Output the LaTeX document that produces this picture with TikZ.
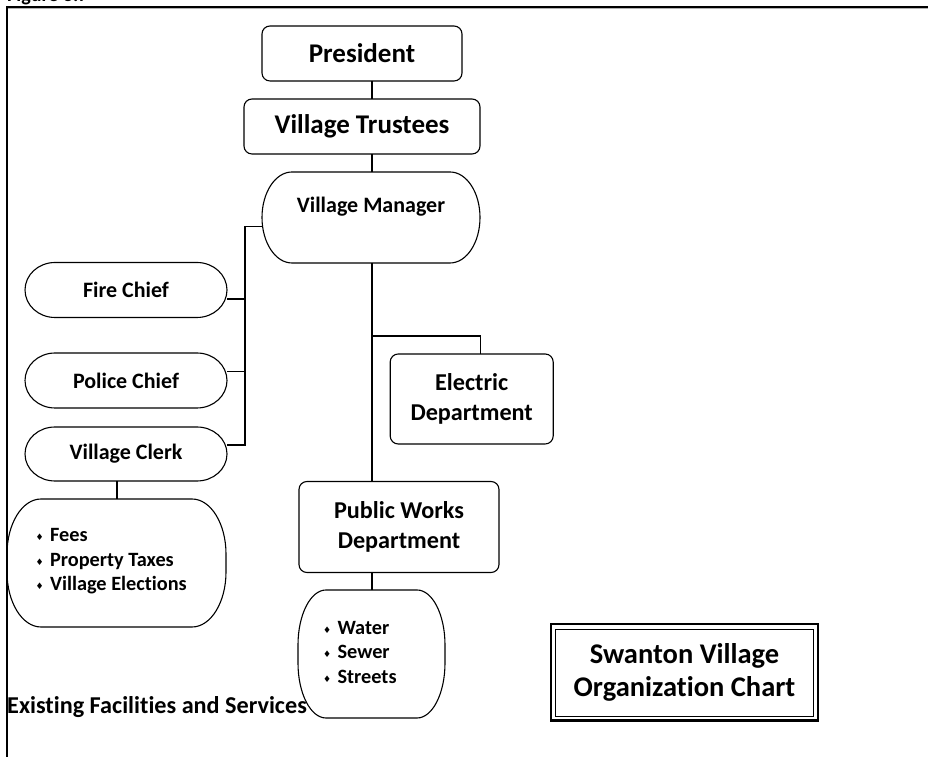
\documentclass[tikz,border=0pt]{standalone}
\usepackage{fontspec}
\setmainfont{Carlito}[Ligatures={NoCommon}]
\newfontfamily\symfont{DejaVu Sans}
\usetikzlibrary{calc}
\newcommand{\ellshape}[3]{%
 \draw[shapeline] ([xshift=#2]#1.north west) -- ([xshift=-#2]#1.north east)
   arc[start angle=90,end angle=0,x radius=#2,y radius=#3]
   -- ([yshift=#3]#1.south east)
   arc[start angle=0,end angle=-90,x radius=#2,y radius=#3]
   -- ([xshift=#2]#1.south west)
   arc[start angle=270,end angle=180,x radius=#2,y radius=#3]
   -- ([yshift=-#3]#1.north west)
   arc[start angle=180,end angle=90,x radius=#2,y radius=#3] -- cycle;}
\newcommand{\dmd}{{\symfont\fontsize{9}{9}\selectfont\raisebox{1pt}{♦}}\hspace{6.5pt}}
\begin{document}
\begin{tikzpicture}[x=1pt,y=1pt,
  conn/.style={line width=1.1pt},
  shapeline/.style={line width=1.1pt},
  rbox/.style={draw, line width=1.1pt, rounded corners=8pt, align=center, inner sep=0pt, outer sep=0pt},
  ebox/.style={align=center, inner sep=0pt, outer sep=0pt},
  fbig/.style={font=\bfseries\fontsize{27}{32}\selectfont},
  fmid/.style={font=\bfseries\fontsize{24.2}{29.3}\selectfont},
  fsub/.style={font=\bfseries\fontsize{22}{26}\selectfont},
  flist/.style={font=\bfseries\fontsize{20.3}{24.5}\selectfont},
  ftitle/.style={font=\bfseries\fontsize{28.5}{33.3}\selectfont}
]
\useasboundingbox (0,0) rectangle (928,757);
% frame
\node[anchor=base west, inner sep=0pt, font=\bfseries\fontsize{20}{24}\selectfont] (fig) at (7,755) {Figure 3.7};
\coordinate (ftl) at (7,750);
\coordinate (ftr) at (928,750);
\coordinate (fbl) at (7,0);
\draw[line width=1pt, gray!60] ([yshift=-1.2pt]ftl) -- ([yshift=-1.2pt]ftr);
\draw[line width=1.4pt] (ftr) -- (ftl) -- (fbl);
% guide coordinates
\coordinate (vx) at (372,0);
\coordinate (bx) at (245,0);
\coordinate (cx) at (117,0);
\coordinate (ex) at (480.7,0);
\coordinate (brY) at (0,421);
% nodes
\node[rbox, fbig, minimum width=200pt, minimum height=55pt] (pres) at (362,703.5) {President};
\node[rbox, fbig, minimum width=236pt, minimum height=55pt] (trust) at (362,630.5) {Village Trustees};
\node[ebox, minimum width=218pt, minimum height=91pt] (mgr) at (371,539.5) {};
\ellshape{mgr}{30pt}{45.5pt}
\node[ebox, fsub] (mgrtext) at (371,550) {Village Manager};
\node[ebox, fsub, minimum width=202pt, minimum height=55pt] (fire) at (126,467) {Fire Chief};
\ellshape{fire}{30pt}{27.5pt}
\node[ebox, fsub, minimum width=202pt, minimum height=55pt] (police) at (126,376.5) {Police Chief};
\ellshape{police}{30pt}{27.5pt}
\node[ebox, fsub, minimum width=202pt, minimum height=54pt] (clerk) at (126,303) {Village Clerk};
\ellshape{clerk}{30pt}{27pt}
\node[ebox, minimum width=219pt, minimum height=128pt] (fees) at (116.5,194) {};
\ellshape{fees}{34pt}{55pt}
\node[ebox, flist, anchor=west, align=left] (feestext) at (35.5,195.5) {\dmd Fees\\\dmd Property Taxes\\\dmd Village Elections};
\node[rbox, fmid, minimum width=163pt, minimum height=90pt] (elec) at (471.7,358) {Electric\\Department};
\node[rbox, fmid, minimum width=200pt, minimum height=91pt] (pw) at (399,230) {Public Works\\Department};
\node[ebox, minimum width=147pt, minimum height=128pt] (water) at (371.5,103) {};
\ellshape{water}{28pt}{55pt}
\node[ebox, flist, anchor=west, align=left] (watertext) at (323,104.7) {\dmd Water\\\dmd Sewer\\\dmd Streets};
\node[ebox, ftitle, minimum width=267pt, minimum height=96pt] (title) at (684.5,84.5) {Swanton Village\\Organization Chart};
\draw[line width=2pt] (title.north west) rectangle (title.south east);
\draw[line width=0.9pt] ([shift={(4.5pt,-4.5pt)}]title.north west) rectangle ([shift={(-4.5pt,4.5pt)}]title.south east);
\node[anchor=west, inner sep=0pt, font=\bfseries\fontsize{24.2}{28}\selectfont] (exist) at (7,50.3) {Existing Facilities and Services};
% connectors
\draw[conn] (pres.south -| vx) -- (trust.north -| vx);
\draw[conn] (trust.south -| vx) -- (mgr.north -| vx);
\draw[conn] (mgr.south -| vx) -- (pw.north -| vx);
\draw[conn] (vx |- brY) -| (elec.north -| ex);
\draw[conn] (pw.south -| vx) -- (water.north -| vx);
\draw[conn] ([yshift=-9pt]mgr.west) -| ([yshift=9pt]clerk.east -| bx) -- ([yshift=9pt]clerk.east);
\draw[conn] ([yshift=-9pt]fire.east) -- ([yshift=-9pt]fire.east -| bx);
\draw[conn] ([yshift=9pt]police.east) -- ([yshift=9pt]police.east -| bx);
\draw[conn] (clerk.south -| cx) -- (fees.north -| cx);
\end{tikzpicture}
\end{document}
